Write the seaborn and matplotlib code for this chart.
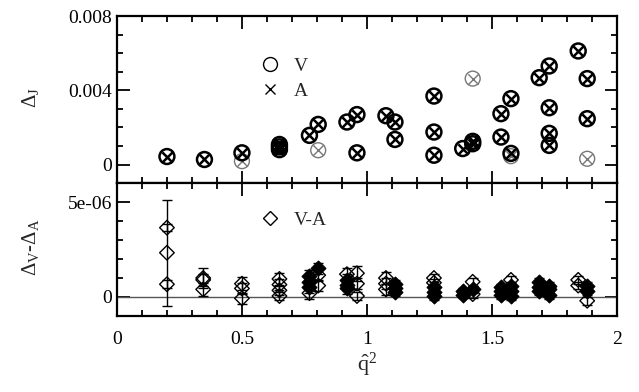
import numpy as np
import pandas as pd
import matplotlib
matplotlib.use("Agg")
import matplotlib.pyplot as plt
import seaborn as sns
from matplotlib.ticker import MultipleLocator, FuncFormatter
from matplotlib.lines import Line2D

# ---------------- data ----------------
q2_main = [0.2, 0.35, 0.5, 0.65, 0.65, 0.65, 0.77, 0.805, 0.92, 0.96, 0.96,
           1.076, 1.112, 1.112, 1.268, 1.268, 1.268, 1.383, 1.423, 1.423,
           1.536, 1.536, 1.576, 1.576, 1.689, 1.729, 1.729, 1.729, 1.729,
           1.845, 1.881, 1.881]
delta_V_main = [0.00043, 0.00027, 0.00063, 0.00080, 0.00095, 0.00108, 0.00157,
                0.00216, 0.00229, 0.00269, 0.00063, 0.00263, 0.00229, 0.00135,
                0.00369, 0.00175, 0.00050, 0.00086, 0.00112, 0.00125, 0.00274,
                0.00148, 0.00355, 0.00060, 0.00468, 0.00531, 0.00306, 0.00168,
                0.00103, 0.00612, 0.00463, 0.00247]
delta_A_main = [0.00043, 0.00027, 0.00063, 0.00080, 0.00095, 0.00108, 0.00157,
                0.00216, 0.00229, 0.00269, 0.00063, 0.00263, 0.00229, 0.00135,
                0.00369, 0.00175, 0.00050, 0.00086, 0.00112, 0.00125, 0.00274,
                0.00148, 0.00355, 0.00060, 0.00468, 0.00531, 0.00306, 0.00168,
                0.00103, 0.00612, 0.00463, 0.00247]

q2_light = [0.5, 0.805, 1.423, 1.576, 1.881]
delta_V_light = [0.00018, 0.00077, 0.00463, 0.00045, 0.00031]
delta_A_light = [0.00018, 0.00077, 0.00463, 0.00045, 0.00031]

q2_diff = [0.2, 0.2, 0.2,
           0.345, 0.345, 0.345,
           0.5, 0.5, 0.5,
           0.65, 0.65, 0.65, 0.65,
           0.77, 0.77, 0.77, 0.77,
           0.805, 0.805, 0.805,
           0.92, 0.92, 0.92, 0.92,
           0.96, 0.96, 0.96,
           1.076, 1.076, 1.076,
           1.112, 1.112, 1.112,
           1.268, 1.268, 1.268, 1.268, 1.268,
           1.383, 1.383,
           1.423, 1.423, 1.423,
           1.536, 1.536, 1.536,
           1.576, 1.576, 1.576, 1.576,
           1.689, 1.689, 1.689,
           1.729, 1.729, 1.729,
           1.845, 1.845,
           1.881, 1.881, 1.881]
diff_VA = [3.65e-6, 2.33e-6, 0.67e-6,
           1.0e-6, 0.9e-6, 0.4e-6,
           0.7e-6, 0.45e-6, -0.07e-6,
           0.95e-6, 0.65e-6, 0.35e-6, 0.05e-6,
           1.1e-6, 0.8e-6, 0.5e-6, 0.2e-6,
           1.5e-6, 1.15e-6, 0.6e-6,
           1.2e-6, 0.9e-6, 0.65e-6, 0.45e-6,
           1.25e-6, 0.7e-6, 0.05e-6,
           1.0e-6, 0.7e-6, 0.4e-6,
           0.7e-6, 0.45e-6, 0.25e-6,
           1.0e-6, 0.75e-6, 0.5e-6, 0.25e-6, 0.05e-6,
           0.3e-6, 0.1e-6,
           0.8e-6, 0.4e-6, 0.15e-6,
           0.5e-6, 0.3e-6, 0.1e-6,
           0.9e-6, 0.6e-6, 0.3e-6, 0.05e-6,
           0.8e-6, 0.5e-6, 0.3e-6,
           0.6e-6, 0.4e-6, 0.1e-6,
           0.9e-6, 0.6e-6,
           0.6e-6, 0.3e-6, -0.2e-6]
diff_err = [0.2e-6, 2.8e-6, 0.2e-6,
            0.55e-6, 0.3e-6, 0.35e-6,
            0.35e-6, 0.3e-6, 0.3e-6,
            0.3e-6, 0.3e-6, 0.25e-6, 0.2e-6,
            0.3e-6, 0.3e-6, 0.3e-6, 0.3e-6,
            0.3e-6, 0.3e-6, 0.3e-6,
            0.3e-6, 0.3e-6, 0.3e-6, 0.3e-6,
            0.4e-6, 0.3e-6, 0.2e-6,
            0.3e-6, 0.3e-6, 0.3e-6,
            0.2e-6, 0.2e-6, 0.2e-6,
            0.2e-6, 0.2e-6, 0.2e-6, 0.2e-6, 0.2e-6,
            0.15e-6, 0.15e-6,
            0.2e-6, 0.2e-6, 0.2e-6,
            0.2e-6, 0.2e-6, 0.2e-6,
            0.2e-6, 0.2e-6, 0.2e-6, 0.2e-6,
            0.2e-6, 0.2e-6, 0.2e-6,
            0.2e-6, 0.2e-6, 0.2e-6,
            0.2e-6, 0.2e-6,
            0.2e-6, 0.2e-6, 0.2e-6]
diff_filled = [0, 0, 0,
               0, 0, 0,
               0, 0, 0,
               0, 0, 0, 0,
               1, 1, 1, 0,
               1, 0, 0,
               0, 1, 1, 1,
               0, 0, 0,
               0, 0, 0,
               1, 1, 1,
               0, 0, 1, 1, 1,
               1, 1,
               0, 1, 0,
               1, 1, 1,
               0, 1, 1, 1,
               1, 1, 1,
               1, 1, 1,
               0, 0,
               1, 1, 0]

x_ticks = [0, 0.5, 1, 1.5, 2]
top_yticks = [0, 0.004, 0.008]
bot_yticks = [0, 5e-06]

# ---------------- style ----------------
sns.set_theme(style="ticks")
plt.rcParams["font.family"] = ["Liberation Serif", "DejaVu Serif"]
plt.rcParams["mathtext.fontset"] = "custom"
plt.rcParams["mathtext.rm"] = "Liberation Serif"
plt.rcParams["mathtext.it"] = "Liberation Serif:italic"
plt.rcParams["mathtext.bf"] = "Liberation Serif:bold"

fig = plt.figure(figsize=(6.39, 3.92), dpi=100)
ax1 = fig.add_axes([0.183, 0.533, 0.7825, 0.426])
ax2 = fig.add_axes([0.183, 0.194, 0.7825, 0.339], sharex=ax1)

main_df = pd.DataFrame({"q2": q2_main, "V": delta_V_main, "A": delta_A_main})
light_df = pd.DataFrame({"q2": q2_light, "V": delta_V_light, "A": delta_A_light})
diff_df = pd.DataFrame({"q2": q2_diff, "d": diff_VA, "err": diff_err, "filled": diff_filled})

# top panel
sns.scatterplot(data=light_df, x="q2", y="V", ax=ax1, marker="o", s=115,
                facecolor="none", edgecolor="#777777", linewidth=1.0, zorder=2)
sns.scatterplot(data=light_df, x="q2", y="A", ax=ax1, marker="x", s=55,
                color="#777777", linewidth=1.0, zorder=2)
sns.scatterplot(data=main_df, x="q2", y="V", ax=ax1, marker="o", s=115,
                facecolor="none", edgecolor="black", linewidth=1.8, zorder=3)
sns.scatterplot(data=main_df, x="q2", y="A", ax=ax1, marker="x", s=55,
                color="black", linewidth=1.8, zorder=3)

# bottom panel
ax2.axhline(0, color="#555555", lw=1.0, zorder=1)
ax2.errorbar(diff_df["q2"], diff_df["d"], yerr=diff_df["err"], fmt="none",
             ecolor="black", elinewidth=1.0, capsize=3.5, capthick=1.0, zorder=2)
open_df = diff_df[diff_df["filled"] == 0]
fill_df = diff_df[diff_df["filled"] == 1]
sns.scatterplot(data=fill_df, x="q2", y="d", ax=ax2, marker="D", s=55,
                color="black", edgecolor="black", linewidth=1.0, zorder=3)
sns.scatterplot(data=open_df, x="q2", y="d", ax=ax2, marker="D", s=55,
                facecolor="none", edgecolor="black", linewidth=1.0, zorder=4)

# axes formatting
fmt = FuncFormatter(lambda v, p: "%g" % v)
for ax in (ax1, ax2):
    ax.set_xlim(0, 2)
    ax.xaxis.set_major_locator(MultipleLocator(0.5))
    ax.xaxis.set_minor_locator(MultipleLocator(0.1))
    ax.tick_params(which="both", direction="in", top=True, right=True,
                   width=1.3, labelsize=14, colors="black")
    ax.tick_params(which="major", length=9)
    ax.tick_params(which="minor", length=4.5)
    for sp in ax.spines.values():
        sp.set_linewidth(1.6)
        sp.set_color("black")
    ax.set_xlabel("")
    ax.set_ylabel("")
    ax.yaxis.set_major_formatter(fmt)
    ax.xaxis.set_major_formatter(fmt)

ax1.set_ylim(-0.001, 0.008)
ax1.set_yticks(top_yticks)
ax1.yaxis.set_minor_locator(MultipleLocator(0.001))
ax1.tick_params(labelbottom=False)

ax2.set_ylim(-1e-6, 6e-6)
ax2.set_yticks(bot_yticks)
ax2.yaxis.set_minor_locator(MultipleLocator(1e-6))
ax2.set_xticks(x_ticks)
ax2.tick_params(axis="x", pad=11)

# legends
h_top = [Line2D([], [], ls="none", marker="o", ms=10, mfc="none", mec="black", mew=1.0, label="V"),
         Line2D([], [], ls="none", marker="x", ms=7, mec="black", mew=1.0, label="A")]
ax1.legend(handles=h_top, loc="upper left", bbox_to_anchor=(0.287, 0.752),
           frameon=False, fontsize=14, handlelength=1.0, handletextpad=0.7,
           labelspacing=0.38, borderpad=0, borderaxespad=0)
h_bot = [Line2D([], [], ls="none", marker="D", ms=7, mfc="none", mec="black", mew=1.0, label="V-A")]
ax2.legend(handles=h_bot, loc="upper left", bbox_to_anchor=(0.287, 0.79),
           frameon=False, fontsize=14, handlelength=1.0, handletextpad=0.7,
           borderpad=0, borderaxespad=0)

# axis labels
fig.text(0.047, 0.75, r"$\Delta_\mathrm{J}$", rotation=90, ha="center", va="center", fontsize=15)
fig.text(0.047, 0.37, r"$\Delta_\mathrm{V}$-$\Delta_\mathrm{A}$", rotation=90, ha="center", va="center", fontsize=15)
fig.text(0.574, 0.068, r"$\hat{\mathrm{q}}^{2}$", ha="center", va="center", fontsize=16)

fig.savefig("out.png", dpi=100)
